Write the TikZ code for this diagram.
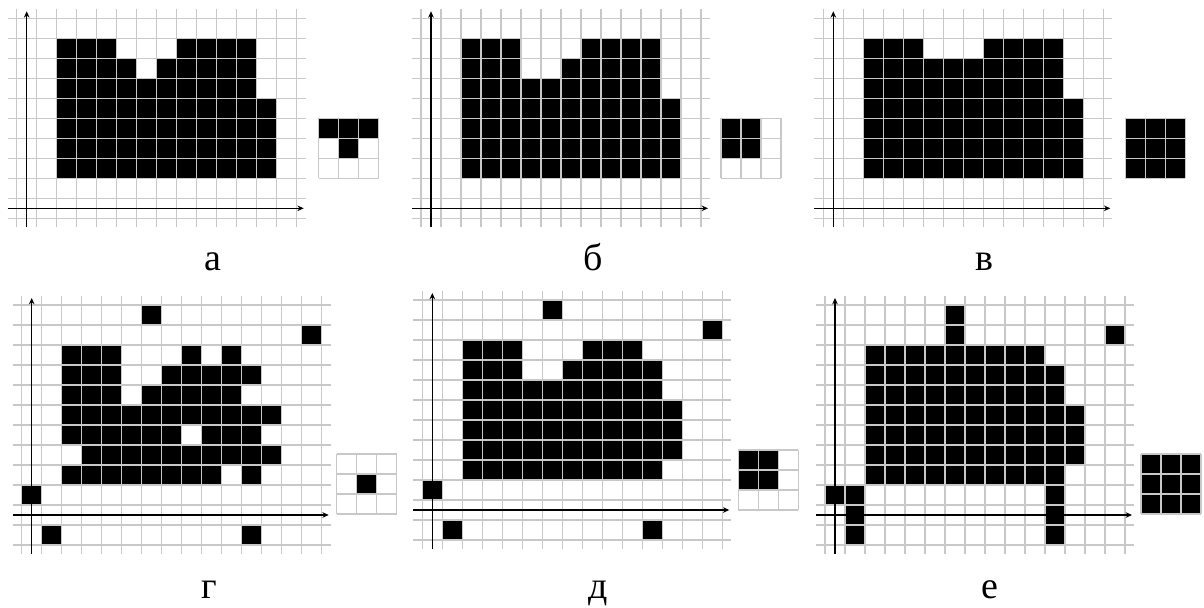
\documentclass[tikz,border=0pt]{standalone}
\usepackage{fontspec}
\setmainfont{Liberation Serif}
\usepackage{xcolor}
\usepackage{tikz}
\usetikzlibrary{arrows.meta}

\definecolor{gridgray}{RGB}{200,200,200}

\begin{document}
\begin{tikzpicture}[
  gridline/.style={draw=gridgray, line width=0.8pt},
  axis/.style={-{Stealth[length=4.5pt,width=4pt]}, line width=0.9pt, black},
  cell/.style={fill=black},
  caption/.style={anchor=base, font=\fontsize{27}{29}\selectfont}
]
\useasboundingbox (0,0) rectangle (30.1,-15.175);

% --- top row: 14 x 10 cells
% (a) source image
\begin{scope}[shift={(0.4175,-5.4575)}, x=0.5cm, y=0.5cm]
  \fill[cell] (2,2) rectangle (13,6) (2,6) rectangle (12,7)
              (2,7) rectangle (6,8) (7,7) rectangle (12,8)
              (2,8) rectangle (5,9) (8,8) rectangle (12,9);
  \foreach \i in {0,...,14} \draw[gridline] (\i,-0.45) -- (\i,10.45);
  \foreach \j in {0,...,10} \draw[gridline] (-0.45,\j) -- (14.45,\j);
  \draw[axis] (0.5,-0.45) -- (0.5,10.35);
  \draw[axis] (-0.45,0.5) -- (14.35,0.5);
  \begin{scope}[shift={(15.1,2)}]
    \fill[cell] (0,2) rectangle (3,3) (1,1) rectangle (2,2);
    \foreach \i in {0,...,3} {\draw[gridline] (\i,0) -- (\i,3); \draw[gridline] (0,\i) -- (3,\i);}
  \end{scope}
\end{scope}

% (b)
\begin{scope}[shift={(10.525,-5.4575)}, x=0.5cm, y=0.5cm]
  \fill[cell] (2,2) rectangle (13,6) (2,6) rectangle (12,7)
              (2,7) rectangle (5,8) (7,7) rectangle (12,8)
              (2,8) rectangle (5,9) (8,8) rectangle (12,9);
  \foreach \i in {0,...,14} \draw[gridline] (\i,-0.45) -- (\i,10.45);
  \foreach \j in {0,...,10} \draw[gridline] (-0.45,\j) -- (14.45,\j);
  \draw[axis] (0.5,-0.45) -- (0.5,10.35);
  \draw[axis] (-0.45,0.5) -- (14.35,0.5);
  \begin{scope}[shift={(15,2)}]
    \fill[cell] (0,1) rectangle (2,3);
    \foreach \i in {0,...,3} {\draw[gridline] (\i,0) -- (\i,3); \draw[gridline] (0,\i) -- (3,\i);}
  \end{scope}
\end{scope}

% (v)
\begin{scope}[shift={(20.5825,-5.4575)}, x=0.5cm, y=0.5cm]
  \fill[cell] (2,2) rectangle (13,6) (2,6) rectangle (12,8)
              (2,8) rectangle (5,9) (8,8) rectangle (12,9);
  \foreach \i in {0,...,14} \draw[gridline] (\i,-0.45) -- (\i,10.45);
  \foreach \j in {0,...,10} \draw[gridline] (-0.45,\j) -- (14.45,\j);
  \draw[axis] (0.5,-0.45) -- (0.5,10.35);
  \draw[axis] (-0.45,0.5) -- (14.35,0.5);
  \begin{scope}[shift={(15.1,2)}]
    \fill[cell] (0,0) rectangle (3,3);
    \foreach \i in {0,...,3} {\draw[gridline] (\i,0) -- (\i,3); \draw[gridline] (0,\i) -- (3,\i);}
  \end{scope}
\end{scope}

% --- bottom row: 15 x 12 cells
% (g) noisy image
\begin{scope}[shift={(0.5425,-13.625)}, x=0.5cm, y=0.5cm]
  \fill[cell] (6,11) rectangle (7,12) (14,10) rectangle (15,11)
              (2,7) rectangle (5,10) (8,9) rectangle (9,10) (10,9) rectangle (11,10)
              (7,8) rectangle (12,9) (6,7) rectangle (11,8)
              (2,6) rectangle (13,7) (2,5) rectangle (8,6) (9,5) rectangle (12,6)
              (3,4) rectangle (13,5) (2,3) rectangle (10,4) (11,3) rectangle (12,4)
              (0,2) rectangle (1,3) (1,0) rectangle (2,1) (11,0) rectangle (12,1);
  \foreach \i in {0,...,15} \draw[gridline] (\i,-0.45) -- (\i,12.45);
  \foreach \j in {0,...,12} \draw[gridline] (-0.45,\j) -- (15.45,\j);
  \draw[axis] (0.5,-0.45) -- (0.5,12.35);
  \draw[axis] (-0.45,1.5) -- (15.35,1.5);
  \begin{scope}[shift={(15.75,1.55)}]
    \fill[cell] (1,1) rectangle (2,2);
    \foreach \i in {0,...,3} {\draw[gridline] (\i,0) -- (\i,3); \draw[gridline] (0,\i) -- (3,\i);}
  \end{scope}
\end{scope}

% (d)
\begin{scope}[shift={(10.5575,-13.5)}, x=0.5cm, y=0.5cm]
  \fill[cell] (6,11) rectangle (7,12) (14,10) rectangle (15,11)
              (2,8) rectangle (5,10) (8,9) rectangle (11,10)
              (7,8) rectangle (12,9) (2,7) rectangle (12,8)
              (2,4) rectangle (13,7) (2,3) rectangle (12,4)
              (0,2) rectangle (1,3) (1,0) rectangle (2,1) (11,0) rectangle (12,1);
  \foreach \i in {0,...,15} \draw[gridline] (\i,-0.45) -- (\i,12.45);
  \foreach \j in {0,...,12} \draw[gridline] (-0.45,\j) -- (15.45,\j);
  \draw[axis] (0.5,-0.45) -- (0.5,12.35);
  \draw[axis] (-0.45,1.5) -- (15.35,1.5);
  \begin{scope}[shift={(15.8,1.5)}]
    \fill[cell] (0,1) rectangle (2,3);
    \foreach \i in {0,...,3} {\draw[gridline] (\i,0) -- (\i,3); \draw[gridline] (0,\i) -- (3,\i);}
  \end{scope}
\end{scope}

% (e)
\begin{scope}[shift={(20.625,-13.625)}, x=0.5cm, y=0.5cm]
  \fill[cell] (6,10) rectangle (7,12) (14,10) rectangle (15,11)
              (2,9) rectangle (11,10) (2,7) rectangle (12,9)
              (2,4) rectangle (13,7) (2,3) rectangle (12,4)
              (0,2) rectangle (2,3) (1,0) rectangle (2,2) (11,0) rectangle (12,3);
  \foreach \i in {0,...,15} \draw[gridline] (\i,-0.45) -- (\i,12.45);
  \foreach \j in {0,...,12} \draw[gridline] (-0.45,\j) -- (15.45,\j);
  \draw[axis] (0.5,-0.45) -- (0.5,12.35);
  \draw[axis] (-0.45,1.5) -- (15.35,1.5);
  \begin{scope}[shift={(15.8,1.55)}]
    \fill[cell] (0,0) rectangle (3,3);
    \foreach \i in {0,...,3} {\draw[gridline] (\i,0) -- (\i,3); \draw[gridline] (0,\i) -- (3,\i);}
  \end{scope}
\end{scope}

% captions
\node[caption] (capa) at (5.325,-6.75) {а};
\node[caption] (capb) at (14.825,-6.75) {б};
\node[caption] (capv) at (24.6,-6.75) {в};
\node[caption] (capg) at (5.225,-14.95) {г};
\node[caption] (capd) at (14.95,-14.95) {д};
\node[caption] (cape) at (24.75,-14.95) {е};

\end{tikzpicture}
\end{document}
